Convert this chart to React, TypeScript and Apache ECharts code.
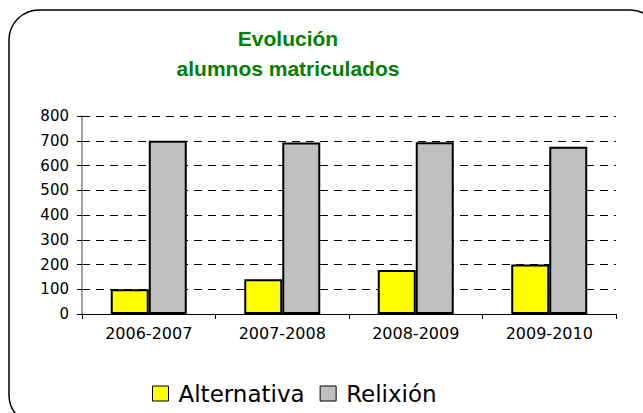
import React, { useEffect, useRef } from "react";
import * as echarts from "echarts";

const categories = ["2006-2007", "2007-2008", "2008-2009", "2009-2010"];
const alternativa = [100, 140, 178, 200];
const relixion = [700, 693, 694, 676];
const seriesNames = ["Alternativa", "Relixión"];
const titleText = "Evolución\nalumnos matriculados";

export default function App() {
  const ref = useRef<HTMLDivElement>(null);
  useEffect(() => {
    if (!ref.current) return;
    const chart = echarts.init(ref.current, undefined, { renderer: "svg" });
    chart.setOption({
      animation: false,
      backgroundColor: "#ffffff",
      title: {
        text: titleText,
        left: 283,
        top: 18,
        textAlign: "center",
        textStyle: {
          fontFamily: "Liberation Sans",
          fontSize: 21,
          fontWeight: "bold",
          color: "#008000",
          lineHeight: 30,
        },
      },
      graphic: [
        {
          type: "rect",
          shape: { x: 9, y: 10, width: 651, height: 415, r: 30 },
          style: { fill: "none", stroke: "#000", lineWidth: 1.5 },
          silent: true,
          z: -1,
        },
      ],
      legend: {
        data: seriesNames,
        left: 147,
        top: 377,
        icon: "rect",
        itemWidth: 16,
        itemHeight: 15,
        itemGap: 15,
        itemStyle: { borderColor: "#000", borderWidth: 1 },
        textStyle: {
          fontFamily: "DejaVu Sans",
          fontSize: 23,
          color: "#000",
          padding: [0, 0, 0, 5],
        },
      },
      grid: { left: 82, right: 27, top: 116, bottom: 99, containLabel: false },
      xAxis: {
        type: "category",
        data: categories,
        axisLine: { show: true, lineStyle: { color: "#000", width: 1 } },
        axisTick: { show: true, length: 5, lineStyle: { color: "#000" } },
        axisLabel: {
          fontFamily: "DejaVu Sans",
          fontSize: 16,
          color: "#000",
          margin: 11,
        },
      },
      yAxis: {
        type: "value",
        min: 0,
        max: 800,
        interval: 100,
        axisLine: { show: true, lineStyle: { color: "#808080", width: 1.5 } },
        axisTick: { show: true, length: 5, lineStyle: { color: "#000" } },
        axisLabel: {
          fontFamily: "DejaVu Sans",
          fontSize: 15,
          color: "#000",
          margin: 13,
        },
        splitLine: {
          show: true,
          lineStyle: { color: "#000", type: [8, 6], width: 1 },
        },
      },
      series: [
        {
          name: seriesNames[0],
          type: "bar",
          data: alternativa,
          barWidth: 38,
          barGap: "0%",
          itemStyle: { color: "#ffff00", borderColor: "#000", borderWidth: 2 },
        },
        {
          name: seriesNames[1],
          type: "bar",
          data: relixion,
          barWidth: 38,
          barGap: "0%",
          itemStyle: { color: "#c0c0c0", borderColor: "#000", borderWidth: 2 },
        },
      ],
    });
    return () => chart.dispose();
  }, []);
  return (
    <div
      ref={ref}
      style={{ position: "fixed", left: 0, top: 0, width: 643, height: 413 }}
    />
  );
}
